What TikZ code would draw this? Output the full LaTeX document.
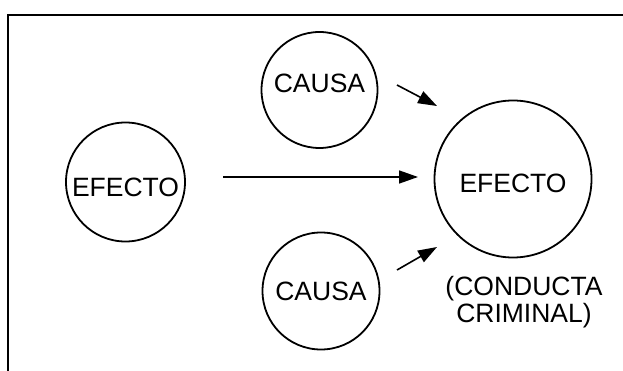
\documentclass[tikz,border=0pt]{standalone}
\usepackage{fontspec}
\setmainfont{Liberation Sans}
\usetikzlibrary{arrows.meta}
\tikzset{
  bubble/.style={draw, circle, line width=1.8pt, inner sep=0pt, font=\fontsize{26.5}{27}\selectfont},
  link/.style={line width=1.6pt, -{Triangle[length=19pt,width=13pt]}},
  frameline/.style={line width=2pt},
  caption/.style={align=center, font=\fontsize{26.5}{27}\selectfont}
}
\begin{document}
\begin{tikzpicture}[x=1pt,y=-1pt]
\useasboundingbox (0,0) rectangle (623,371);
% frame
\coordinate (fTL) at (8,15);
\coordinate (fTR) at (623,15);
\coordinate (fBL) at (8,371);
\draw[frameline] (fBL) -- (fTL) -- (fTR);
% circles
\node[bubble, minimum size=119pt, text height=29pt, text depth=0pt] (eL) at (125.5,182) {EFECTO};
\node[bubble, minimum size=116pt, text height=19pt, text depth=14pt] (cT) at (319.5,90) {CAUSA};
\node[bubble, minimum size=117pt] (cB) at (321,291) {CAUSA};
\node[bubble, minimum size=157pt, text height=27pt, text depth=0pt] (eR) at (513,179) {EFECTO};
\node[caption] (lab) at (524,302) {(CONDUCTA\\CRIMINAL)};
% arrows
\coordinate (aTs) at (397,85);
\coordinate (aTe) at (437,106);
\coordinate (aMs) at (223,177);
\coordinate (aMe) at (418,177);
\coordinate (aBs) at (397,270);
\coordinate (aBe) at (437,247);
\draw[link] (aTs) -- (aTe);
\draw[link] (aMs) -- (aMe);
\draw[link] (aBs) -- (aBe);
\end{tikzpicture}
\end{document}
